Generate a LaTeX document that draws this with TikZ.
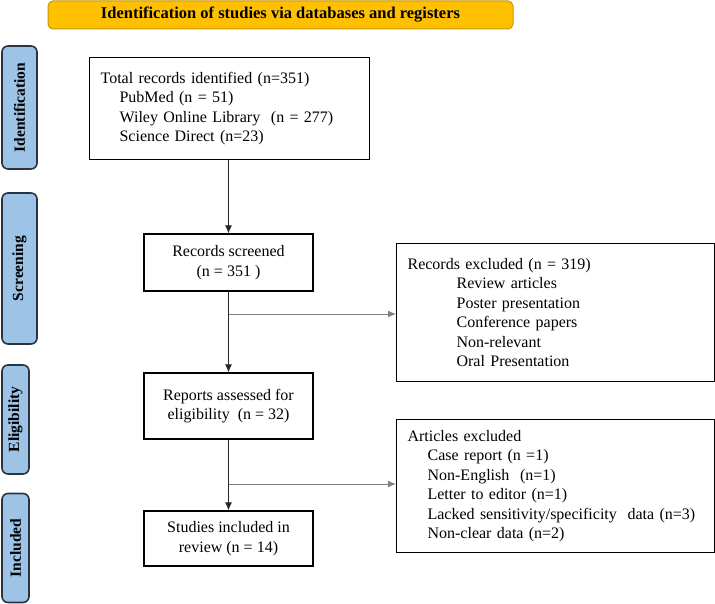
\documentclass[tikz,border=0pt]{standalone}
\usepackage{fontspec}
\setmainfont{Liberation Serif}
\usetikzlibrary{arrows.meta}
\definecolor{hdrfill}{HTML}{FFC000}
\definecolor{hdrline}{HTML}{C99700}
\definecolor{sidefill}{HTML}{9DC3E6}
\definecolor{sideline}{HTML}{2A3441}
\tikzset{
  x=1pt,y=-1pt,
  mainfont/.style={font=\fontsize{16}{19.5}\selectfont},
  flowbox/.style={draw=black, line width=1.2pt, mainfont, align=center, inner sep=0pt},
  listbox/.style={draw=black, line width=1.2pt, mainfont, align=left, anchor=north west, inner xsep=11pt, inner ysep=0pt},
  sidebar/.style={draw=sideline, fill=sidefill, line width=1.6pt, rounded corners=6pt, rotate=90,
    font=\bfseries\fontsize{15.5}{17}\selectfont, inner sep=0pt},
  conn/.style={draw=black!85, line width=0.9pt, -{Latex[length=8pt,width=7pt]}},
  branch/.style={draw=black!50, line width=1pt, -{Latex[length=8pt,width=7pt]}},
}
\begin{document}
\begin{tikzpicture}
\useasboundingbox (0,0) rectangle (715,604);
% header
\node[draw=hdrline, fill=hdrfill, line width=1pt, rounded corners=5pt, minimum width=465pt, minimum height=28pt,
  font=\bfseries\fontsize{16.5}{18}\selectfont, inner sep=0pt] (hdr) at (280.5,15) {Identification of studies via databases and registers};
% sidebars
\node[sidebar, minimum width=123pt, minimum height=35pt] (sb1) at (19.5,107.5) {Identification};
\node[sidebar, minimum width=151pt, minimum height=35pt] (sb2) at (19.5,268.5) {Screening};
\node[sidebar, minimum width=109pt, minimum height=27pt] (sb3) at (15.5,419.5) {Eligibility};
\node[sidebar, minimum width=109pt, minimum height=27pt] (sb4) at (15.5,548) {Included};
% main boxes
\node[listbox, text width=258pt, minimum height=102pt] (id) at (89,57)
  {Total records identified (n=351)\\
   \hspace*{19pt}PubMed (n = 51)\\
   \hspace*{19pt}Wiley Online Library\ \ (n = 277)\\
   \hspace*{19pt}Science Direct (n=23)};
\node[flowbox, minimum width=169pt, minimum height=57pt] (scr) at (228.5,262.5) {Records screened\\(n = 351\ )};
\node[flowbox, minimum width=169pt, minimum height=66pt] (elig) at (228.5,406) {Reports assessed for\\eligibility\ \ (n = 32)};
\node[flowbox, minimum width=169pt, minimum height=55pt] (inc) at (228.5,538.5) {Studies included in\\review (n = 14)};
% exclusion boxes
\node[listbox, text width=296pt, minimum height=138pt] (ex1) at (396,243)
  {Records excluded (n = 319)\\
   \hspace*{49pt}Review articles\\
   \hspace*{49pt}Poster presentation\\
   \hspace*{49pt}Conference papers\\
   \hspace*{49pt}Non-relevant\\
   \hspace*{49pt}Oral Presentation};
\node[listbox, text width=296pt, minimum height=133pt] (ex2) at (396,419)
  {Articles excluded\\
   \hspace*{20pt}Case report (n =1)\\
   \hspace*{20pt}Non-English\ \ (n=1)\\
   \hspace*{20pt}Letter to editor (n=1)\\
   \hspace*{20pt}Lacked sensitivity/specificity\ \ data (n=3)\\
   \hspace*{20pt}Non-clear data (n=2)};
% connectors
\coordinate (j1) at (228.5,314);
\coordinate (j2) at (228.5,484);
\draw[conn] (id.south -| scr.north) -- (scr.north);
\draw[conn] (scr.south) -- (elig.north);
\draw[conn] (elig.south) -- (inc.north);
\draw[branch] (j1) -- (j1 -| ex1.west);
\draw[branch] (j2) -- (j2 -| ex2.west);
\end{tikzpicture}
\end{document}
